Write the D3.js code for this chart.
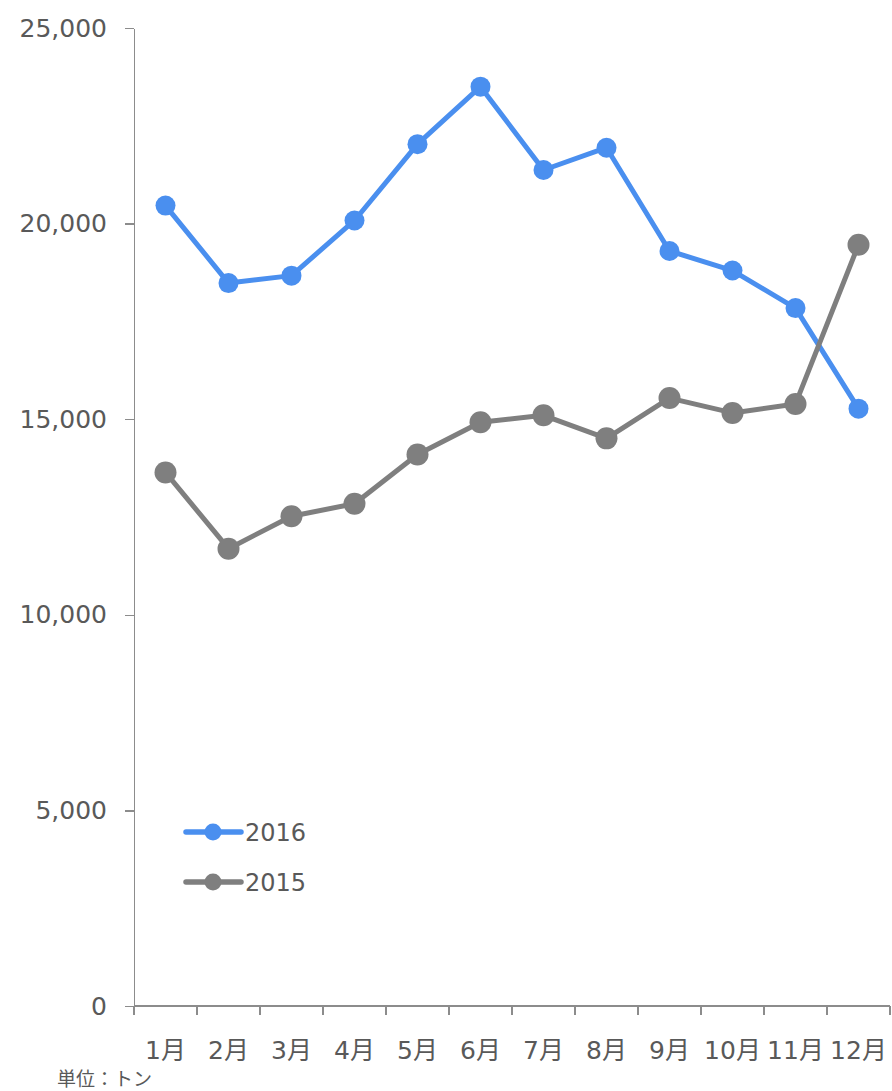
<!DOCTYPE html>
<html>
<head>
  <meta charset="utf-8">
  <title>月別推移</title>
  <script src="https://d3js.org/d3.v7.min.js"></script>
  <style>
    body { margin: 0; background: #fff; }
    .axis path, .axis line { stroke: #8c8c8c; stroke-width: 1.5; shape-rendering: crispEdges; }
    .axis text {
      font-family: "DejaVu Sans", "Noto Sans CJK JP", sans-serif;
      font-size: 25px;
      fill: #595959;
    }
    .legend text, .unit {
      font-family: "DejaVu Sans", "Noto Sans CJK JP", sans-serif;
      fill: #595959;
    }
  </style>
</head>
<body>
<script type="text/javascript">

  // data
  var months = ["1月", "2月", "3月", "4月", "5月", "6月", "7月", "8月", "9月", "10月", "11月", "12月"];
  var values2016 = [20460, 18480, 18670, 20080, 22030, 23500, 21370, 21940, 19300, 18800, 17840, 15270];
  var values2015 = [13640, 11690, 12520, 12840, 14100, 14920, 15100, 14510, 15540, 15160, 15390, 19460];
  var yTicks = [0, 5000, 10000, 15000, 20000, 25000];

  var series = [
    { name: "2016", values: values2016, color: "#4a8fef", r: 10 },
    { name: "2015", values: values2015, color: "#7f7f7f", r: 11 }
  ];

  var w = 892;
  var h = 1091;
  var padLeft = 134, padRight = 890, padTop = 28, padBottom = 1006;

  var svg = d3.select("body")
    .append("svg")
    .attr("width", w)
    .attr("height", h);

  var xScale = d3.scaleBand()
    .domain(months)
    .range([padLeft, padRight]);

  var yScale = d3.scaleLinear()
    .domain([0, 25000])
    .range([padBottom, padTop]);

  // y axis
  var yAxis = d3.axisLeft(yScale)
    .tickValues(yTicks)
    .tickFormat(d3.format(","))
    .tickSize(9)
    .tickSizeOuter(0)
    .tickPadding(18);

  svg.append("g")
    .attr("class", "axis")
    .attr("transform", "translate(" + padLeft + ",0)")
    .call(yAxis);

  // x axis, ticks on band edges
  var xAxis = d3.axisBottom(xScale)
    .tickSize(0)
    .tickPadding(35);

  var gx = svg.append("g")
    .attr("class", "axis")
    .attr("transform", "translate(0," + padBottom + ")")
    .call(xAxis);
  gx.select(".domain").attr("d", "M" + padLeft + ",0H" + padRight);

  var edges = months.map(function(m){ return xScale(m); }).concat([padRight]);
  gx.selectAll("line.edge")
    .data(edges)
    .enter()
    .append("line")
    .attr("class", "edge")
    .attr("x1", function(d){ return d; })
    .attr("x2", function(d){ return d; })
    .attr("y1", 0)
    .attr("y2", 9);

  var line = d3.line()
    .x(function(d, i){ return xScale(months[i]) + xScale.bandwidth() / 2; })
    .y(function(d){ return yScale(d); });

  series.forEach(function(s){
    var g = svg.append("g");
    g.append("path")
      .datum(s.values)
      .attr("d", line)
      .attr("fill", "none")
      .attr("stroke", s.color)
      .attr("stroke-width", 5)
      .attr("stroke-linejoin", "round");
    g.selectAll("circle")
      .data(s.values)
      .enter()
      .append("circle")
      .attr("cx", function(d, i){ return xScale(months[i]) + xScale.bandwidth() / 2; })
      .attr("cy", function(d){ return yScale(d); })
      .attr("r", s.r)
      .attr("fill", s.color);
  });

  // legend
  var legend = svg.append("g").attr("class", "legend");
  series.forEach(function(s, i){
    var y = 832 + i * 50;
    legend.append("line")
      .attr("x1", 186).attr("x2", 241)
      .attr("y1", y).attr("y2", y)
      .attr("stroke", s.color)
      .attr("stroke-width", 5.5)
      .attr("stroke-linecap", "round");
    legend.append("circle")
      .attr("cx", 213).attr("cy", y)
      .attr("r", 8.5)
      .attr("fill", s.color);
    legend.append("text")
      .attr("x", 245).attr("y", y + 9)
      .attr("font-size", "24px")
      .text(s.name);
  });

  svg.append("text")
    .attr("class", "unit")
    .attr("x", 57).attr("y", 1086)
    .attr("font-size", "19px")
    .text("単位：トン");

</script>
</body>
</html>
